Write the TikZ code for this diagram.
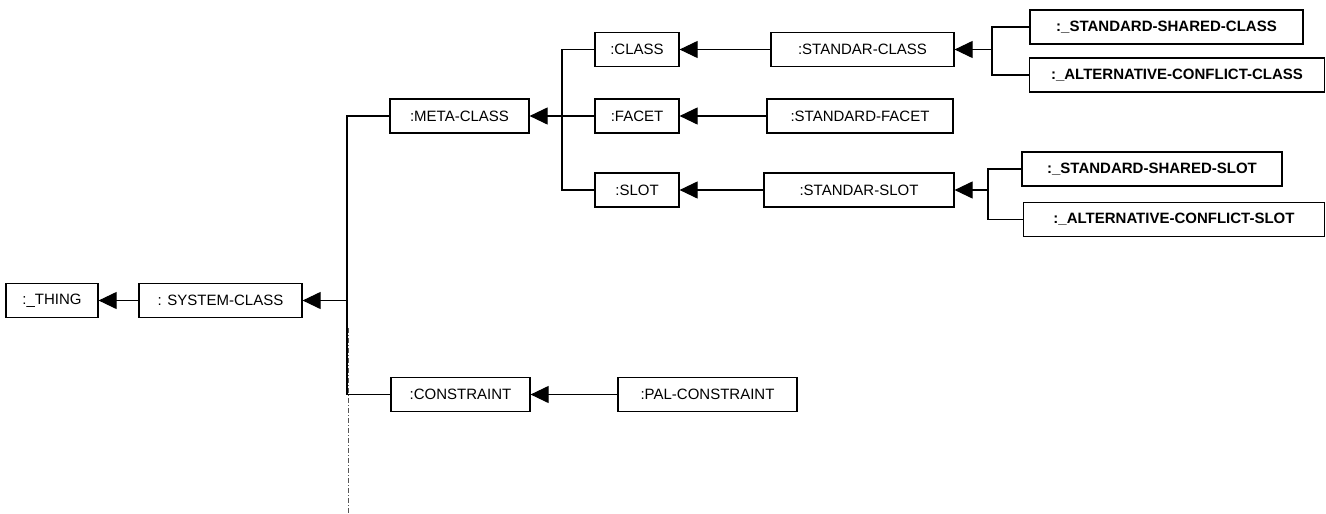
\documentclass[tikz,border=0pt]{standalone}
\usepackage{fontspec}
\setmainfont{Liberation Sans}
\usetikzlibrary{arrows.meta}
\definecolor{TailGray}{HTML}{555555}

\begin{document}
\begin{tikzpicture}[x=1pt, y=-1pt,
    box/.style={draw, line width=1.2pt, minimum height=34pt, inner sep=0pt,
        font=\fontsize{15}{18}\selectfont},
    boldbox/.style={box, font=\fontsize{15}{18}\selectfont\bfseries},
    link/.style={line width=1.1pt},
    isa/.style={link, -{Triangle[length=18pt, width=17pt]}}]

    \useasboundingbox (0,0) rectangle (1326,514);

    % === root chain ===
    \node[box, minimum width=92pt]  (thing)    at (52,300.5)  {:\_THING};
    \node[box, minimum width=163pt] (sysclass) at (220.5,300.5) {: SYSTEM-CLASS};

    % === second level ===
    \node[box, minimum width=139pt] (metaclass)     at (459.5,116)  {:META-CLASS};
    \node[box, minimum width=139pt] (constraint)    at (460.5,394.5) {:CONSTRAINT};
    \node[box, minimum width=179pt] (palconstraint) at (707.5,394.5) {:PAL-CONSTRAINT};

    % === meta-class children ===
    \node[box, minimum width=84pt] (class) at (637,49.5) {:CLASS};
    \node[box, minimum width=84pt] (facet) at (637,116)  {:FACET};
    \node[box, minimum width=84pt] (slot)  at (637,190)  {:SLOT};

    \node[box, minimum width=183pt] (stdclass) at (862.5,49.5) {:STANDAR-CLASS};
    \node[box, minimum width=186pt] (stdfacet) at (860,116)    {:STANDARD-FACET};
    \node[box, minimum width=190pt] (stdslot)  at (859,190)    {:STANDAR-SLOT};

    % === leaves ===
    \node[boldbox, minimum width=273pt] (sharedclass) at (1166.5,27) {:\_STANDARD-SHARED-CLASS};
    \node[boldbox, minimum width=295pt] (altclass)    at (1177,75)   {:\_ALTERNATIVE-CONFLICT-CLASS};
    \node[boldbox, minimum width=260pt] (sharedslot)  at (1152,169)  {:\_STANDARD-SHARED-SLOT};
    \node[boldbox, minimum width=301pt] (altslot)     at (1174,219.5) {:\_ALTERNATIVE-CONFLICT-SLOT};

    % === junctions ===
    \coordinate (trunk)     at (347,300.5);
    \coordinate (metajoin)  at (562,116);
    \coordinate (classjoin) at (992,49.5);
    \coordinate (slotjoin)  at (988,190);
    \coordinate (tailstart) at (348.5,328);
    \coordinate (tailend)   at (348.5,514);

    % === connectors ===
    \draw[isa] (sysclass) -- (thing);
    \draw[isa] (trunk) -- (sysclass);
    \draw[link] (metaclass) -| (trunk) |- (constraint);
    \draw[isa] (palconstraint) -- (constraint);

    \draw[isa] (metajoin) -- (metaclass);
    \draw[link] (class) -| (metajoin) |- (slot);
    \draw[link] (facet) -- (metajoin);

    \draw[isa] (stdclass) -- (class);
    \draw[isa] (stdfacet) -- (facet);
    \draw[isa] (stdslot) -- (slot);

    \draw[isa] (classjoin) -- (stdclass);
    \draw[link] (sharedclass) -| (classjoin) |- (altclass);
    \draw[isa] (slotjoin) -- (stdslot);
    \draw[link] (sharedslot) -| (slotjoin) |- (altslot);

    \draw[TailGray, line width=1.3pt, dash pattern=on 5pt off 2pt on 1pt off 2pt] (tailstart) -- (tailend);

\end{tikzpicture}
\end{document}
